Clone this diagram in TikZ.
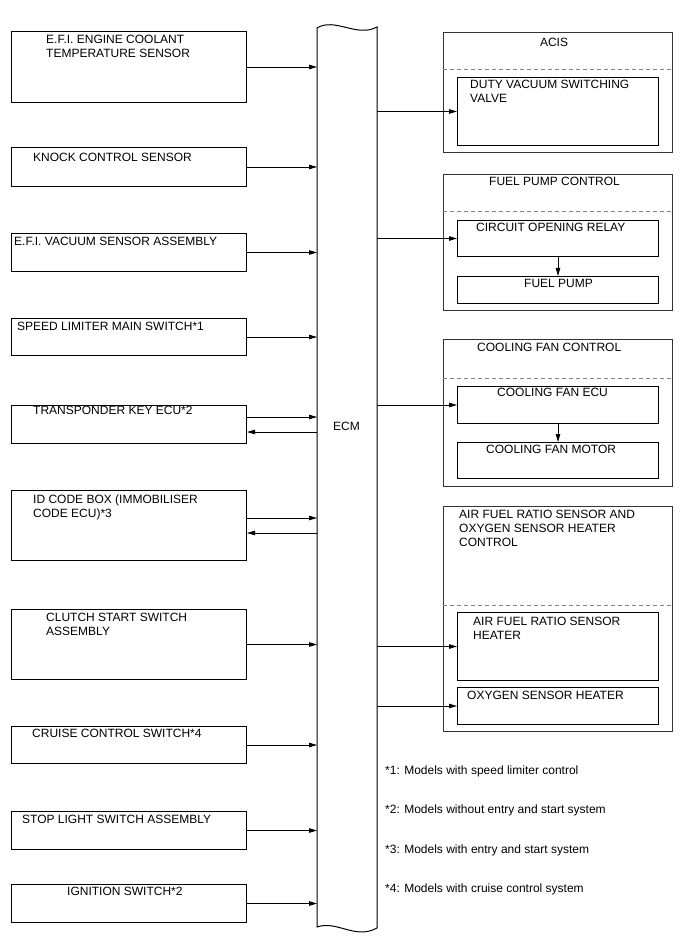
\documentclass[tikz,border=0pt]{standalone}
\usepackage{fontspec}
\setmainfont{Liberation Sans}
\usetikzlibrary{arrows.meta}

\begin{document}
\begin{tikzpicture}[x=1pt,y=-1pt,
    box/.style={draw=black,line width=1pt,minimum width=235pt,anchor=north west,inner sep=0pt},
    grp/.style={draw=black!80,line width=1pt,minimum width=229pt,anchor=north west,inner sep=0pt},
    part/.style={draw=black,line width=1pt,minimum width=201pt,anchor=north west,inner sep=0pt},
    txt/.style={anchor=north west,inner sep=0pt,align=left,font=\fontsize{12}{14}\selectfont},
    sep/.style={draw=black!50,line width=1pt,dash pattern=on 4pt off 3pt},
    sig/.style={line width=0.8pt,-{Triangle[length=8pt,width=4.5pt]}}]
  \useasboundingbox (0,0) rectangle (688,949);
  % the ECM
  \node[minimum width=60pt,minimum height=899pt,anchor=north west,inner sep=0pt] (ecm) at (317,28) {};
  \draw[line width=1pt] (317,28) .. controls (335,17) and (357,38) .. (377,27)
    -- (377,928) .. controls (355,940) and (337,920) .. (317,927) -- cycle;
  \node[txt] (ecm-l) at (333,422) {ECM};
  % inputs
  \node[box,minimum height=71pt] (ect)  at (11,31)  {};
  \node[box,minimum height=39pt] (knk)  at (11,147) {};
  \node[box,minimum height=38pt] (vac)  at (11,233) {};
  \node[box,minimum height=37pt] (slm)  at (11,318) {};
  \node[box,minimum height=38pt] (tkey) at (11,405) {};
  \node[box,minimum height=70pt] (idb)  at (11,490) {};
  \node[box,minimum height=70pt] (css)  at (11,609) {};
  \node[box,minimum height=37pt] (ccs)  at (11,726) {};
  \node[box,minimum height=38pt] (stp)  at (11,811) {};
  \node[box,minimum height=38pt] (ign)  at (11,884) {};
  \node[txt] (ect-l)  at (46,35)  {E.F.I. ENGINE COOLANT\\TEMPERATURE SENSOR};
  \node[txt] (knk-l)  at (33,153) {KNOCK CONTROL SENSOR};
  \node[txt] (vac-l)  at (14,237) {E.F.I. VACUUM SENSOR ASSEMBLY};
  \node[txt] (slm-l)  at (17,322) {SPEED LIMITER MAIN SWITCH*1};
  \node[txt] (tkey-l) at (33,406) {TRANSPONDER KEY ECU*2};
  \node[txt] (idb-l)  at (33,495) {ID CODE BOX (IMMOBILISER\\CODE ECU)*3};
  \node[txt] (css-l)  at (46,613) {CLUTCH START SWITCH\\ASSEMBLY};
  \node[txt] (ccs-l)  at (32,729) {CRUISE CONTROL SWITCH*4};
  \node[txt] (stp-l)  at (22,815) {STOP LIGHT SWITCH ASSEMBLY};
  \node[txt] (ign-l)  at (67,887) {IGNITION SWITCH*2};
  \foreach \n in {ect,knk,vac,slm,css,ccs,stp,ign}
    \draw[sig] (\n.east) -- (\n.east -| ecm.west);
  \foreach \n in {tkey,idb}{
    \draw[sig] ([yshift=7.5pt]\n.east) -- ([yshift=7.5pt]\n.east -| ecm.west);
    \draw[sig] ([yshift=-7.5pt]\n.east -| ecm.west) -- ([yshift=-7.5pt]\n.east);
  }
  % outputs
  \node[grp,minimum height=120pt] (acis) at (443,32)  {};
  \node[grp,minimum height=136pt] (fpc)  at (443,174) {};
  \node[grp,minimum height=147pt] (cfc)  at (443,339) {};
  \node[grp,minimum height=225pt] (afc)  at (443,506) {};
  \draw[sep] (443,70) -- (672,70);
  \draw[sep] (443,212) -- (672,212);
  \draw[sep] (443,378) -- (672,378);
  \draw[sep] (443,605) -- (672,605);
  \node[txt,anchor=north] (acis-l) at (554,38) {ACIS};
  \node[txt] (fpc-l) at (489,177) {FUEL PUMP CONTROL};
  \node[txt] (cfc-l) at (477,343) {COOLING FAN CONTROL};
  \node[txt] (afc-l) at (459,510) {AIR FUEL RATIO SENSOR AND\\OXYGEN SENSOR HEATER\\CONTROL};
  \node[part,minimum height=68pt] (dvsv)  at (457,77)  {};
  \node[part,minimum height=36pt] (cor)   at (457,220) {};
  \node[part,minimum height=27pt] (fpump) at (457,276) {};
  \node[part,minimum height=37pt] (cfecu) at (457,386) {};
  \node[part,minimum height=36pt] (cfmot) at (457,442) {};
  \node[part,minimum height=68pt] (afh)   at (457,612) {};
  \node[part,minimum height=37pt] (oxh)   at (457,687) {};
  \node[txt] (dvsv-l)  at (470,80)  {DUTY VACUUM SWITCHING\\VALVE};
  \node[txt] (cor-l)   at (476,223) {CIRCUIT OPENING RELAY};
  \node[txt] (fpump-l) at (524,279) {FUEL PUMP};
  \node[txt] (cfecu-l) at (497,388) {COOLING FAN ECU};
  \node[txt] (cfmot-l) at (486,445) {COOLING FAN MOTOR};
  \node[txt] (afh-l)   at (473,617) {AIR FUEL RATIO SENSOR\\HEATER};
  \node[txt] (oxh-l)   at (467,691) {OXYGEN SENSOR HEATER};
  \foreach \n in {dvsv,cor,cfecu,afh,oxh}
    \draw[sig] (\n.west -| ecm.east) -- (\n.west);
  \draw[sig] (cor) -- (fpump);
  \draw[sig] (cfecu) -- (cfmot);
  % notes
  \node[txt,anchor=base west] (n1) at (385,774) {*1: Models with speed limiter control};
  \node[txt,anchor=base west] (n2) at (385,813) {*2: Models without entry and start system};
  \node[txt,anchor=base west] (n3) at (385,853) {*3: Models with entry and start system};
  \node[txt,anchor=base west] (n4) at (385,892) {*4: Models with cruise control system};
\end{tikzpicture}
\end{document}
